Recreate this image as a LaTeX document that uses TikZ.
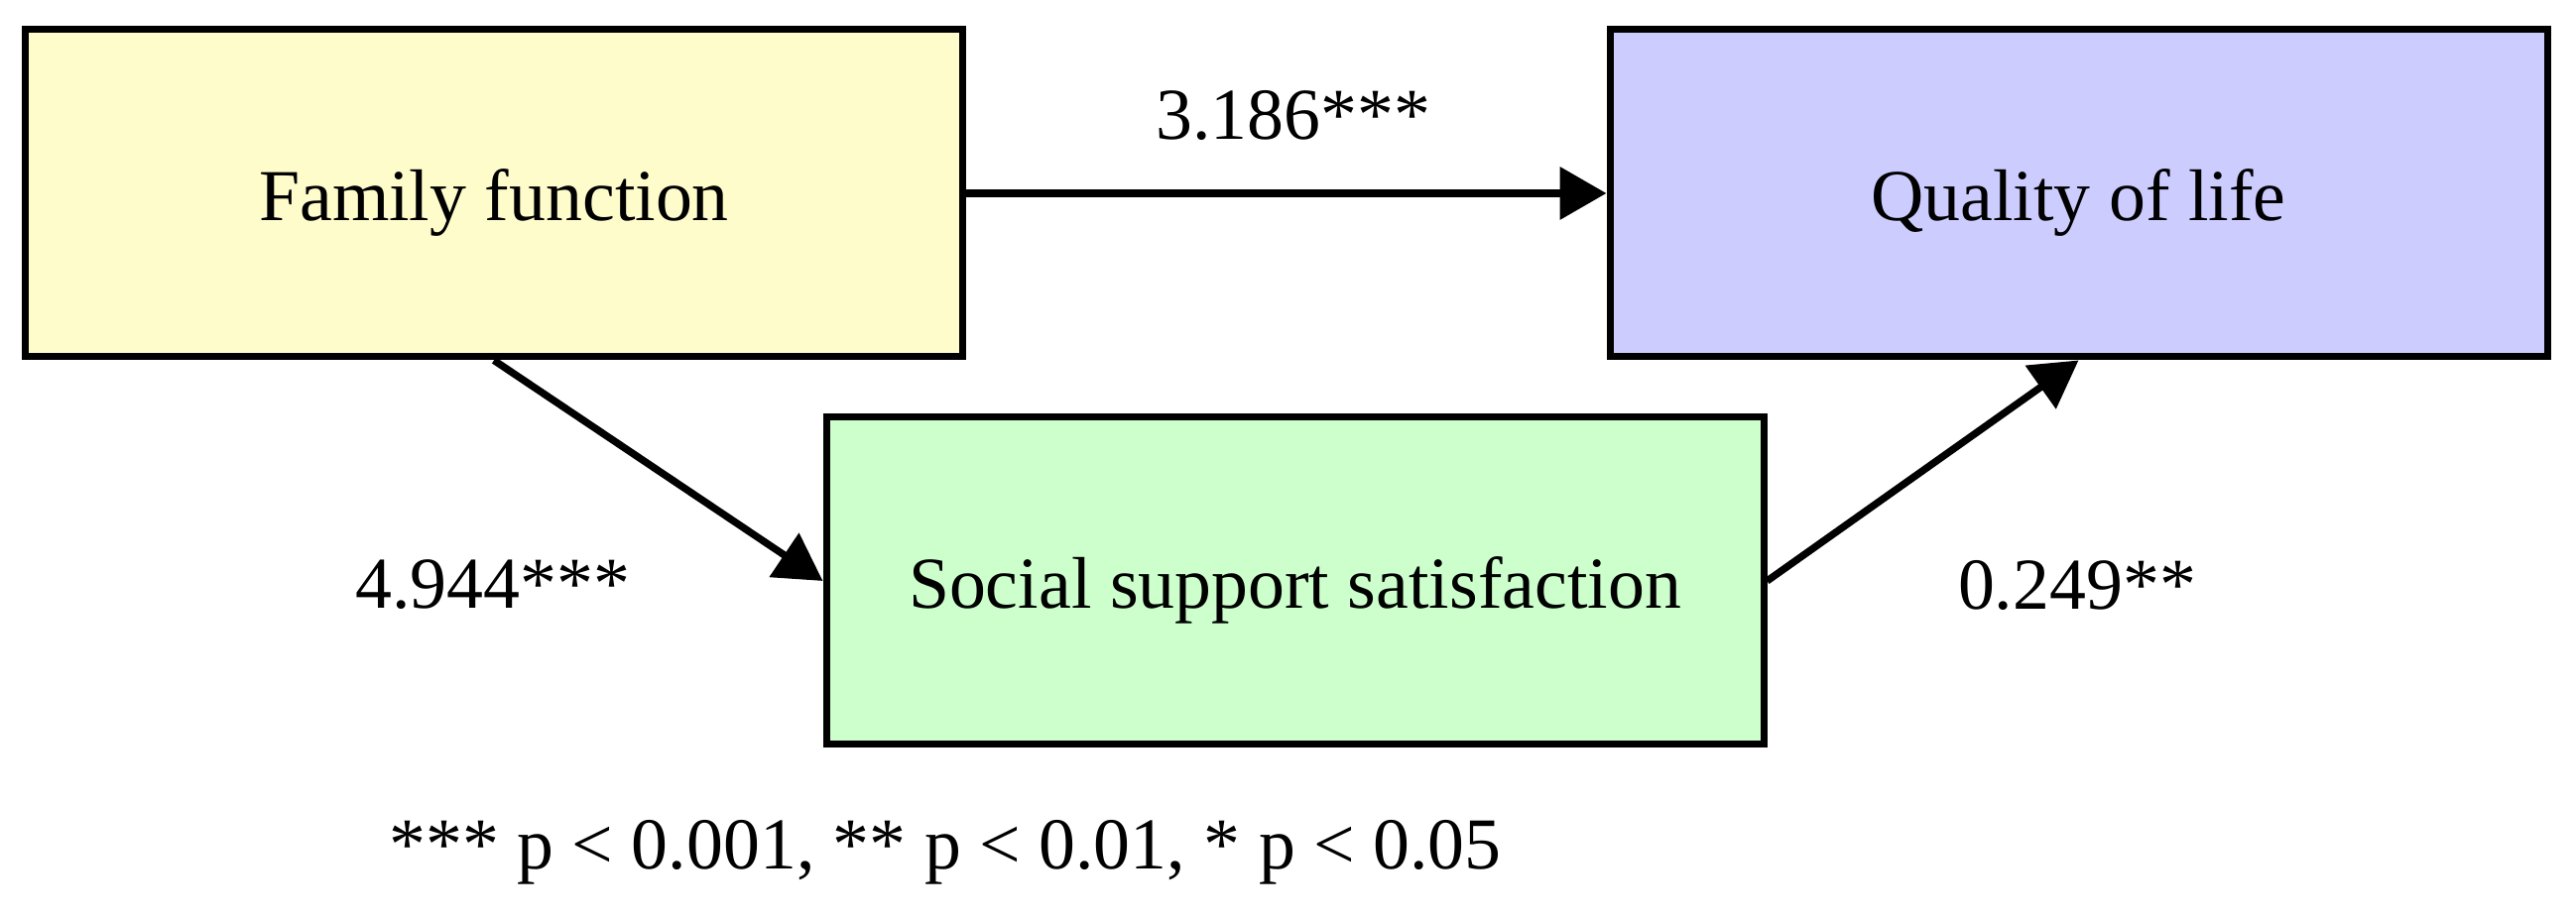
\documentclass[tikz,border=0pt]{standalone}
\usepackage{fontspec}
\setmainfont{Liberation Serif}
\usetikzlibrary{arrows.meta}

\begin{document}
\begin{tikzpicture}[
    font=\fontsize{21pt}{25pt}\selectfont,
    var/.style={draw, line width=0.07cm, minimum width=9.45cm, minimum height=3.30cm,
      text height=0.6cm, text depth=0.04cm, inner sep=2pt},
    pred/.style={var, fill=yellow!20},
    medi/.style={var, fill=green!20},
    outc/.style={var, fill=blue!20},
    effect/.style={line width=0.073cm, -{Triangle[length=0.47cm, width=0.52cm]}},
    coef/.style={anchor=base, inner sep=0pt},
  ]
    % frame of the figure (1px = 0.01cm)
    \useasboundingbox (0,0) rectangle (25.97,9.28);
    % variables
    \node[pred] (family) at (4.98,7.33) {Family function};
    \node[outc] (quality) at (20.955,7.33) {Quality of life};
    \node[medi] (social) at (13.055,3.42) {Social support satisfaction};
    % paths
    \draw[effect] (family.east) -- (quality.west);
    \draw[effect] (family.south) -- (social.west);
    \draw[effect] (social.east) -- (quality.south);
    % coefficients
    \node[coef] (cdirect) at (13.04,7.87) {3.186***};
    \node[coef] (ca) at (4.97,3.14) {4.944***};
    \node[coef] (cb) at (20.94,3.13) {0.249**};
    % significance note
    \node[coef] (note) at (9.53,0.51) {*** p < 0.001, ** p < 0.01, * p < 0.05};
\end{tikzpicture}
\end{document}
